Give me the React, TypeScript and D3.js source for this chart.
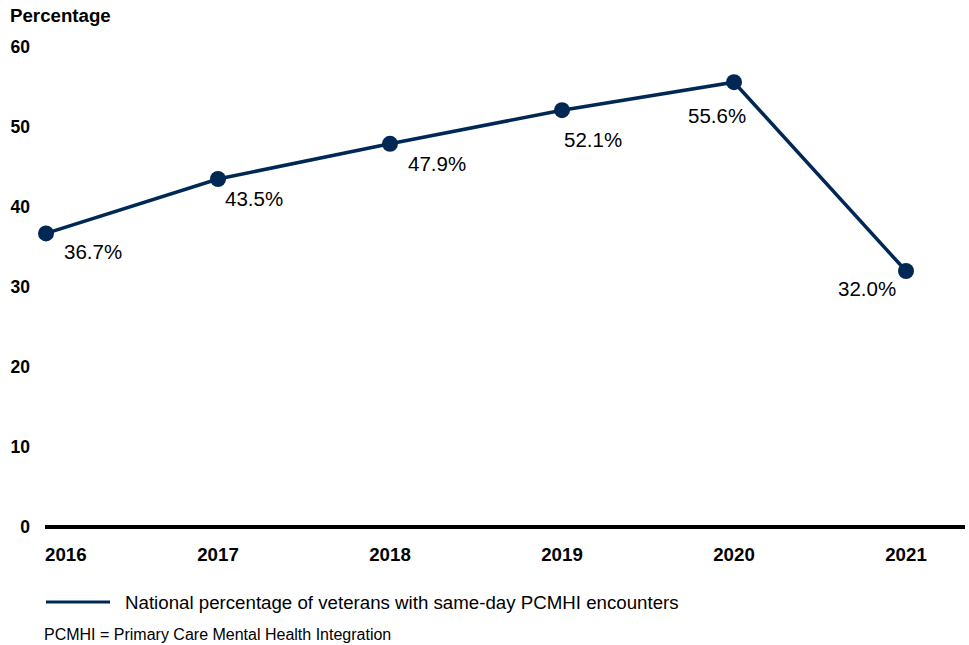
import React from "react";
import * as d3 from "d3";

const years = ["2016", "2017", "2018", "2019", "2020", "2021"];
const values = [36.7, 43.5, 47.9, 52.1, 55.6, 32.0];
const yTicks = [0, 10, 20, 30, 40, 50, 60];
const labelOffsets: [number, number][] = [
  [18, 18],
  [7, 20],
  [18, 20],
  [2, 30],
  [-46, 34],
  [-68, 18],
];

const W = 969;
const H = 645;
const NAVY = "#002855";
const FONT = "Arial, 'Liberation Sans', sans-serif";

export default function App() {
  const x = d3.scalePoint<string>().domain(years).range([46, 906]);
  const y = d3.scaleLinear().domain([0, 60]).range([527, 47]);
  const line = d3
    .line<number>()
    .x((_, i) => x(years[i]) as number)
    .y((d) => y(d));

  return (
    <svg
      width={W}
      height={H}
      style={{ position: "absolute", left: 0, top: 0, fontFamily: FONT }}
    >
      <text x={10} y={22} fontSize={18.7} fontWeight="bold" fill="#000">
        Percentage
      </text>
      {yTicks.map((t) => (
        <text
          key={t}
          x={30}
          y={y(t)}
          dy="0.35em"
          textAnchor="end"
          fontSize={17.5}
          fontWeight="bold"
          fill="#000"
        >
          {t}
        </text>
      ))}
      <line x1={45} x2={965} y1={y(0)} y2={y(0)} stroke="#000" strokeWidth={4} />
      {years.map((yr, i) => (
        <text
          key={yr}
          x={i === 0 ? 45 : (x(yr) as number)}
          y={561}
          textAnchor={i === 0 ? "start" : "middle"}
          fontSize={18.7}
          fontWeight="bold"
          fill="#000"
        >
          {yr}
        </text>
      ))}
      <path d={line(values) || ""} fill="none" stroke={NAVY} strokeWidth={3.5} />
      {values.map((v, i) => (
        <circle key={i} cx={x(years[i]) as number} cy={y(v)} r={8} fill={NAVY} />
      ))}
      {values.map((v, i) => (
        <text
          key={"l" + i}
          x={(x(years[i]) as number) + labelOffsets[i][0]}
          y={y(v) + labelOffsets[i][1]}
          dy="0.35em"
          fontSize={20.5}
          fill="#000"
        >
          {v.toFixed(1)}%
        </text>
      ))}
      <line x1={46} x2={110} y1={602} y2={602} stroke={NAVY} strokeWidth={3} />
      <text x={125} y={602} dy="0.35em" fontSize={18.7} fill="#000">
        National percentage of veterans with same-day PCMHI encounters
      </text>
      <text x={44} y={634} dy="0.35em" fontSize={16} fill="#000">
        PCMHI = Primary Care Mental Health Integration
      </text>
    </svg>
  );
}
